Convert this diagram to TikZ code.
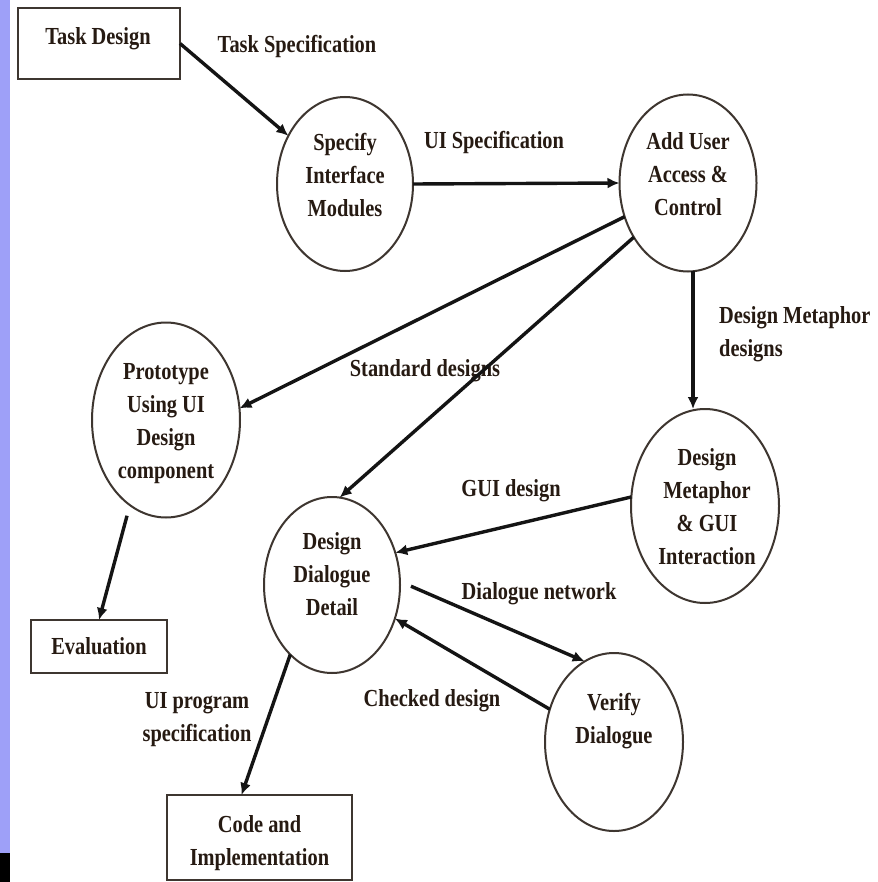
\documentclass[tikz,border=0pt]{standalone}
\usepackage{fontspec}
\setmainfont{Liberation Serif}
\usetikzlibrary{shapes.geometric,arrows.meta,calc}
\definecolor{txtc}{RGB}{38,26,18}
\definecolor{edgec}{RGB}{62,54,48}
\definecolor{stripc}{RGB}{158,160,248}
\newcommand{\lbtxt}[2][c]{\scalebox{1}[1.2]{\begin{tabular}{@{}#1@{}}#2\end{tabular}}}
\begin{document}
\begin{tikzpicture}[x=1pt,y=-1pt,
  tx/.style={font=\fontsize{20.4}{27.5}\selectfont\bfseries, text=txtc, inner sep=0pt},
  ell/.style={draw=edgec, line width=2pt, ellipse, inner sep=0pt, outer sep=0pt},
  rbox/.style={draw=edgec, line width=2.4pt, rectangle, inner sep=0pt, outer sep=0pt},
  arr/.style={draw=black!92, line width=3.4pt, -{Latex[length=12pt,width=11pt]}}]
\useasboundingbox (0,0) rectangle (877,882);
\fill[white] (0,0) rectangle (877,882);
\fill[stripc] (0,0) rectangle (10,853);
\fill[black] (0,853) rectangle (10,882);

% boxes
\node[rbox, minimum width=162pt, minimum height=71pt] (td) at (99,43.5) {};
\node[tx] (tdt) at (98,38) {\lbtxt{Task Design}};
\node[rbox, minimum width=136pt, minimum height=53pt] (ev) at (99,646.5) {};
\node[tx] (evt) at (99,648) {\lbtxt{Evaluation}};
\node[rbox, minimum width=185pt, minimum height=85pt] (code) at (259.5,837.5) {};
\node[tx] (codet) at (259.5,842) {\lbtxt{Code and\\Implementation}};

% ellipses
\node[ell, minimum width=136pt, minimum height=174pt] (sim) at (345,184) {};
\node[tx] (simt) at (345,177) {\lbtxt{Specify\\Interface\\Modules}};
\node[ell, minimum width=137pt, minimum height=177pt] (au) at (688,183) {};
\node[tx] (aut) at (688,176) {\lbtxt{Add User\\Access \&\\Control}};
\node[ell, minimum width=148pt, minimum height=195pt] (proto) at (166,420) {};
\node[tx] (protot) at (166,422) {\lbtxt{Prototype\\Using UI\\Design\\component}};
\node[ell, minimum width=136pt, minimum height=176pt] (ddd) at (332,585) {};
\node[tx] (dddt) at (332,576) {\lbtxt{Design\\Dialogue\\Detail}};
\node[ell, minimum width=148pt, minimum height=194pt] (dmg) at (705,506) {};
\node[tx] (dmgt) at (707,508) {\lbtxt{Design\\Metaphor\\\& GUI\\Interaction}};
\node[ell, minimum width=138pt, minimum height=178pt] (ver) at (614,742) {};
\node[tx] (vert) at (614,720) {\lbtxt{Verify\\Dialogue}};

% connector labels
\node[tx] (l1) at (297,46) {\lbtxt{Task Specification}};
\node[tx] (l2) at (494,142) {\lbtxt{UI Specification}};
\node[tx] (l3) at (425,370) {\lbtxt{Standard designs}};
\node[tx, anchor=west] (l4) at (719,333) {\lbtxt[l]{Design Metaphor\\designs}};
\node[tx] (l5) at (511,490) {\lbtxt{GUI design}};
\node[tx] (l6) at (539,593) {\lbtxt{Dialogue network}};
\node[tx] (l7) at (432,700) {\lbtxt{Checked design}};
\node[tx] (l8) at (197,718) {\lbtxt{UI program\\specification}};

% connectors
\coordinate (xv) at (693,0);
\draw[arr] (td.east) -- (sim);
\draw[arr] (sim.east) -- (au.west);
\draw[arr] (au.208) -- (proto.9);
\draw[arr] (au.225) -- (ddd.85);
\draw[arr] (au.south -| xv) -- (dmg.north -| xv);
\draw[arr] (dmg.173) -- (ddd.27);
\draw[arr, shorten <=12pt] (ddd.3) -- (ver.110);
\draw[arr] (ver.153) -- (ddd.-28);
\draw[arr, shorten <=11pt] (proto.247) -- (ev.north);
\draw[arr] (ddd.239) -- ($(code.north)+(-18,0)$);
\end{tikzpicture}
\end{document}
